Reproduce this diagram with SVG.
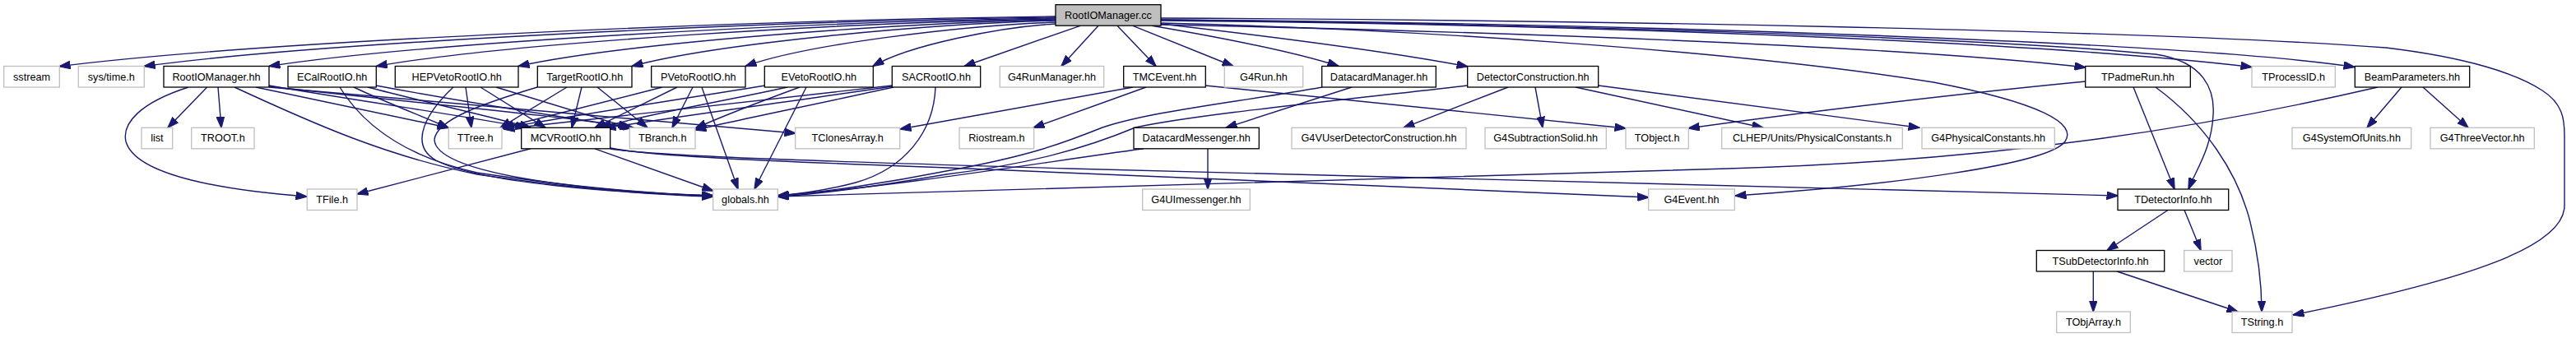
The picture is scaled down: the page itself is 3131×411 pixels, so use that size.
<svg xmlns="http://www.w3.org/2000/svg" width="3131" height="411" viewBox="0 0 3131 411">
<style>
.n rect{fill:#fff;stroke:#bfbfbf;stroke-width:1.3}
.d rect{fill:#fff;stroke:#000;stroke-width:1.3}
.r rect{fill:#bfbfbf;stroke:#000;stroke-width:1.3}
text{font-family:"Liberation Sans",Arial,sans-serif;font-size:12.7px;text-anchor:middle;fill:#000}
#edges path{fill:none;stroke:#191970;stroke-width:1.4;marker-end:url(#a)}
</style>
<defs>
<marker id="a" markerUnits="userSpaceOnUse" markerWidth="14" markerHeight="10" viewBox="0 0 13 9" refX="12.5" refY="4.5" orient="auto"><path d="M0,0L13,4.5L0,9z" fill="#191970" stroke="#191970" stroke-width="1"/></marker>
</defs>
<rect width="3131" height="411" fill="#fff"/>
<g id="edges">
<path d="M1283,20 C920,24 314,50 72,80.7"/>
<path d="M1283,21 C951,25 397,50.5 175.3,80.5"/>
<path d="M1283,22 C996,26 518,51 327,80.5"/>
<path d="M1283,23 C1035,27 622,51.5 457.3,80.5"/>
<path d="M1283,24 C1087,28 761,52 630,80.5"/>
<path d="M1283,25 C1129,29 871,52.5 768,80.5"/>
<path d="M1283,27 C1170,31 981,53.5 906,80.5"/>
<path d="M1283,29 C1216,33 1105,54.5 1061,80.5"/>
<path d="M1313,31.3 L1172,80.5"/>
<path d="M1335,31.3 L1290,80.5"/>
<path d="M1358,31.3 L1405,80.5"/>
<path d="M1377,31.3 L1499,80.5"/>
<path d="M1400,31.3 C1480,45 1570,62 1627,80.5"/>
<path d="M1411,29 C1550,45 1700,65 1784,81"/>
<path d="M1411,28 C1700,35 2100,60 2350,100 C2480,125 2525,150 2510,172 C2490,200 2300,225 2109,238"/>
<path d="M1411,30 C1800,38 2300,55 2535,82"/>
<path d="M1411,25 C1900,30 2450,48 2737,81.5"/>
<path d="M1411,24 C1950,28 2650,50 2862,81.5"/>
<path d="M1411,24 C1900,30 2400,45 2620,66 C2680,75 2692,110 2690,140 C2688,180 2670,205 2660,230"/>
<path d="M1411,22 C1900,24 2600,36 2900,58 C3000,70 3060,90 3090,110 C3115,126 3117,145 3117,165 L3117,250 C3117,300 3000,340 2787,383"/>
<path d="M251.7,106 L204,155.3"/>
<path d="M265,106 L269,155.3"/>
<path d="M229,106 C170,125 148,150 153,172 C165,215 280,232 373,239"/>
<path d="M285,106 C380,150 470,190 580,212 C700,230 800,237 866.7,239"/>
<path d="M311,106 L545,155.3"/>
<path d="M327,104 C450,125 560,140 640,155.3"/>
<path d="M327,105 C500,125 680,140 767,155.3"/>
<path d="M327,106 C550,125 800,148 967,162"/>
<path d="M413,106 C440,150 490,190 580,210 C700,228 800,236 866.7,238"/>
<path d="M430,106 C470,125 510,140 545,155.3"/>
<path d="M447,106 C520,125 590,140 645,155.3"/>
<path d="M457,104 C570,125 700,145 770,155.3"/>
<path d="M551,106 C520,135 495,175 530,195 C580,222 750,235 866.7,238"/>
<path d="M566,106 L573,155.3"/>
<path d="M584,106 L663,155.3"/>
<path d="M603,106 L765,155.3"/>
<path d="M653,106 C590,125 530,145 528,170 C530,210 700,232 866.7,238"/>
<path d="M689,106 L608,155.3"/>
<path d="M707,106 L695,155.3"/>
<path d="M726,106 L787,155.3"/>
<path d="M805,106 L611,155.3"/>
<path d="M823,106 L723,155.3"/>
<path d="M842,106 L817,155.3"/>
<path d="M853,106 L897,230"/>
<path d="M930,104 C800,125 680,143 611,156"/>
<path d="M957,106 C870,125 780,140 730,155.3"/>
<path d="M972,106 C920,125 870,145 845,156"/>
<path d="M980,106 L917,230"/>
<path d="M1084.3,104 C900,125 720,145 612,157"/>
<path d="M1085,105 C950,125 800,145 735,156"/>
<path d="M1086,106 C1000,125 900,145 845,158"/>
<path d="M1137,106 C1135,160 1100,205 1040,222 C1010,230 980,235 945.3,238"/>
<path d="M1377,106 L1094,157"/>
<path d="M1393,106 L1256,155.3"/>
<path d="M1465,104 L1976,156"/>
<path d="M1643,106 L1490,155.3"/>
<path d="M1607,106 C1500,125 1400,135 1340,155 C1290,175 1250,190 1150,208 C1080,222 1000,234 945.3,238"/>
<path d="M1784,104 C1600,125 1450,140 1380,155 C1320,180 1250,200 1150,212 C1080,224 1000,236 945.3,239"/>
<path d="M1833,106 L1706,155.3"/>
<path d="M1866,106 L1875,155.3"/>
<path d="M1915,106 L2143,155.3"/>
<path d="M1943,104 L2333,155.3"/>
<path d="M1468,180.8 L1468,230"/>
<path d="M1390,180.8 C1250,200 1100,225 945.3,238.5"/>
<path d="M723,180.8 L866.7,232"/>
<path d="M645,180.8 L434,236"/>
<path d="M742,180 C800,192 1000,198 1200,206 C1500,218 1800,232 2003.7,240"/>
<path d="M742,181 C800,190 1000,196 1300,205 C1800,218 2300,232 2574,238"/>
<path d="M2535,99 C2400,112 2200,135 2052.3,156"/>
<path d="M2593,106 L2643,230"/>
<path d="M2620,106 C2680,150 2720,210 2735,270 C2745,310 2749,350 2749,379"/>
<path d="M2890,106 C2700,150 2450,195 2100,205 C1700,215 1300,225 945.3,239"/>
<path d="M2919,106 L2877,155.3"/>
<path d="M2945,106 L3000,155.3"/>
<path d="M2635,255.5 L2561,304.5"/>
<path d="M2655,255.5 L2675,304.5"/>
<path d="M2544.3,330 L2544.3,379"/>
<path d="M2573,330 L2720,379"/>
</g>
<g id="node-root" class="r"><rect x="1283" y="5.7" width="128" height="25.5"/><text x="1347" y="22.7">RootIOManager.cc</text></g>
<g id="node-sstream" class="n"><rect x="4.7" y="80.5" width="67.6" height="25.5"/><text x="38.5" y="97.5">sstream</text></g>
<g id="node-systime" class="n"><rect x="95.3" y="80.5" width="80" height="25.5"/><text x="135.3" y="97.5">sys/time.h</text></g>
<g id="node-rootiomanager-hh" class="d"><rect x="199" y="80.5" width="128" height="25.5"/><text x="263" y="97.5">RootIOManager.hh</text></g>
<g id="node-ecal" class="d"><rect x="350" y="80.5" width="107.3" height="25.5"/><text x="403.6" y="97.5">ECalRootIO.hh</text></g>
<g id="node-hepveto" class="d"><rect x="480.3" y="80.5" width="149.7" height="25.5"/><text x="555.2" y="97.5">HEPVetoRootIO.hh</text></g>
<g id="node-target" class="d"><rect x="653.3" y="80.5" width="114.7" height="25.5"/><text x="710.7" y="97.5">TargetRootIO.hh</text></g>
<g id="node-pveto" class="d"><rect x="791.7" y="80.5" width="114.3" height="25.5"/><text x="848.8" y="97.5">PVetoRootIO.hh</text></g>
<g id="node-eveto" class="d"><rect x="929.3" y="80.5" width="132" height="25.5"/><text x="995.3" y="97.5">EVetoRootIO.hh</text></g>
<g id="node-sac" class="d"><rect x="1084.3" y="80.5" width="107.4" height="25.5"/><text x="1138" y="97.5">SACRootIO.hh</text></g>
<g id="node-g4runmanager" class="n"><rect x="1215.3" y="80.5" width="126.4" height="25.5"/><text x="1278.5" y="97.5">G4RunManager.hh</text></g>
<g id="node-tmcevent" class="d"><rect x="1365.7" y="80.5" width="99.6" height="25.5"/><text x="1415.5" y="97.5">TMCEvent.hh</text></g>
<g id="node-g4run" class="n"><rect x="1488.3" y="80.5" width="95.4" height="25.5"/><text x="1536" y="97.5">G4Run.hh</text></g>
<g id="node-datacardmanager" class="d"><rect x="1606.7" y="80.5" width="138.6" height="25.5"/><text x="1676" y="97.5">DatacardManager.hh</text></g>
<g id="node-detectorconstruction" class="d"><rect x="1783.7" y="80.5" width="159" height="25.5"/><text x="1863.2" y="97.5">DetectorConstruction.hh</text></g>
<g id="node-tpadmerun" class="d"><rect x="2534.7" y="80.5" width="127.6" height="25.5"/><text x="2598.5" y="97.5">TPadmeRun.hh</text></g>
<g id="node-tprocessid" class="n"><rect x="2737" y="80.5" width="101.3" height="25.5"/><text x="2787.7" y="97.5">TProcessID.h</text></g>
<g id="node-beamparameters" class="d"><rect x="2862.3" y="80.5" width="139.4" height="25.5"/><text x="2932" y="97.5">BeamParameters.hh</text></g>
<g id="node-list" class="n"><rect x="172" y="155.3" width="37.7" height="25.5"/><text x="190.9" y="172.3">list</text></g>
<g id="node-troot" class="n"><rect x="232.7" y="155.3" width="76.3" height="25.5"/><text x="270.9" y="172.3">TROOT.h</text></g>
<g id="node-ttree" class="n"><rect x="545.3" y="155.3" width="64.7" height="25.5"/><text x="577.7" y="172.3">TTree.h</text></g>
<g id="node-mcvrootio" class="d"><rect x="633.7" y="155.3" width="108" height="25.5"/><text x="687.7" y="172.3">MCVRootIO.hh</text></g>
<g id="node-tbranch" class="n"><rect x="765.3" y="155.3" width="79.7" height="25.5"/><text x="805.2" y="172.3">TBranch.h</text></g>
<g id="node-tclonesarray" class="n"><rect x="966.7" y="155.3" width="127" height="25.5"/><text x="1030.2" y="172.3">TClonesArray.h</text></g>
<g id="node-riostream" class="n"><rect x="1166" y="155.3" width="90.7" height="25.5"/><text x="1211.4" y="172.3">Riostream.h</text></g>
<g id="node-datacardmessenger" class="d"><rect x="1378" y="155.3" width="152.3" height="25.5"/><text x="1454.2" y="172.3">DatacardMessenger.hh</text></g>
<g id="node-g4vuser" class="n"><rect x="1570" y="155.3" width="212" height="25.5"/><text x="1676" y="172.3">G4VUserDetectorConstruction.hh</text></g>
<g id="node-g4subtraction" class="n"><rect x="1805" y="155.3" width="147.3" height="25.5"/><text x="1878.7" y="172.3">G4SubtractionSolid.hh</text></g>
<g id="node-tobject" class="n"><rect x="1976" y="155.3" width="76.3" height="25.5"/><text x="2014.2" y="172.3">TObject.h</text></g>
<g id="node-clhep" class="n"><rect x="2092.7" y="155.3" width="219.6" height="25.5"/><text x="2202.5" y="172.3">CLHEP/Units/PhysicalConstants.h</text></g>
<g id="node-g4physconst" class="n"><rect x="2336" y="155.3" width="161.3" height="25.5"/><text x="2416.7" y="172.3">G4PhysicalConstants.hh</text></g>
<g id="node-g4sysunits" class="n"><rect x="2786" y="155.3" width="144.7" height="25.5"/><text x="2858.4" y="172.3">G4SystemOfUnits.hh</text></g>
<g id="node-g4threevector" class="n"><rect x="2954" y="155.3" width="126.3" height="25.5"/><text x="3017.2" y="172.3">G4ThreeVector.hh</text></g>
<g id="node-tfile" class="n"><rect x="373.3" y="230" width="60.7" height="25.5"/><text x="403.7" y="247">TFile.h</text></g>
<g id="node-globals" class="n"><rect x="866.7" y="230" width="78.6" height="25.5"/><text x="906" y="247">globals.hh</text></g>
<g id="node-g4uimessenger" class="n"><rect x="1388.7" y="230" width="130.6" height="25.5"/><text x="1454" y="247">G4UImessenger.hh</text></g>
<g id="node-g4event" class="n"><rect x="2003.7" y="230" width="104.6" height="25.5"/><text x="2056" y="247">G4Event.hh</text></g>
<g id="node-tdetectorinfo" class="d"><rect x="2574" y="230" width="134.7" height="25.5"/><text x="2641.4" y="247">TDetectorInfo.hh</text></g>
<g id="node-tsubdetectorinfo" class="d"><rect x="2475.3" y="304.5" width="155.4" height="25.5"/><text x="2553" y="321.5">TSubDetectorInfo.hh</text></g>
<g id="node-vector" class="n"><rect x="2654.7" y="304.5" width="58.3" height="25.5"/><text x="2683.9" y="321.5">vector</text></g>
<g id="node-tobjarray" class="n"><rect x="2499.7" y="379" width="89.6" height="25.5"/><text x="2544.5" y="396">TObjArray.h</text></g>
<g id="node-tstring" class="n"><rect x="2713" y="379" width="73" height="25.5"/><text x="2749.5" y="396">TString.h</text></g>
</svg>
